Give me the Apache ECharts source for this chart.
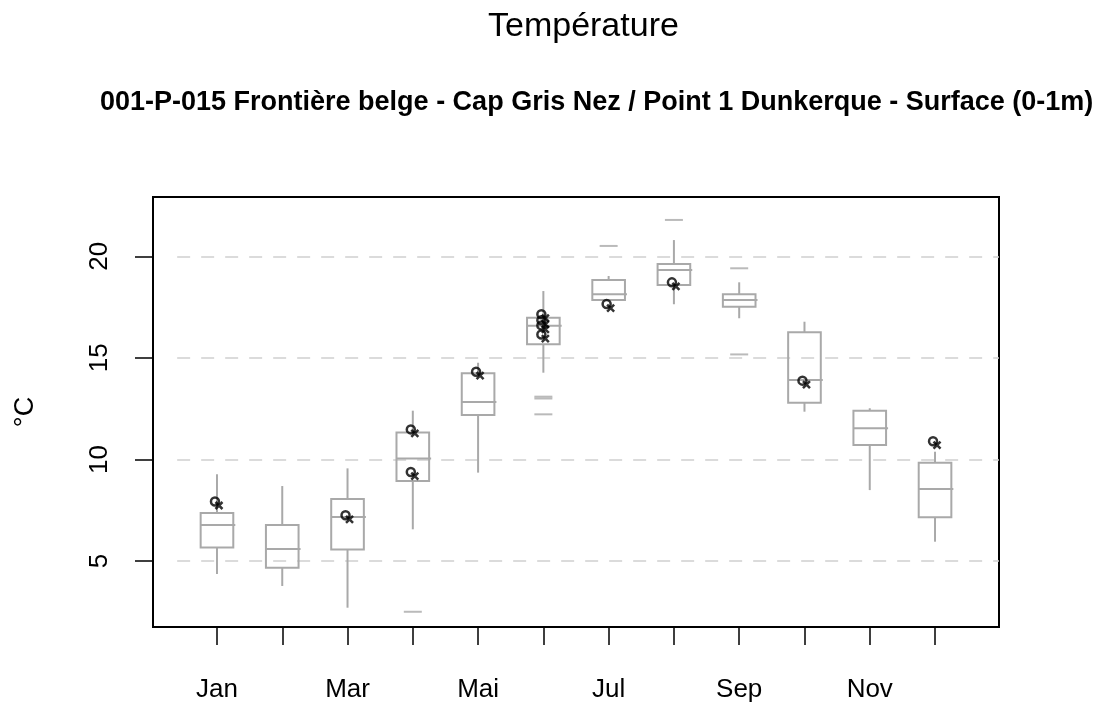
<!DOCTYPE html>
<html>
<head>
<meta charset="utf-8">
<script src="https://cdn.jsdelivr.net/npm/echarts@6/dist/echarts.min.js"></script>
<style>
	html, body { margin: 0; padding: 0; background: #fff; }
	#chart { width: 1101px; height: 706px; }
</style>
</head>
<body>
<div id="chart"></div>
<script>
// mois (seuls les impairs sont affichés, comme dans R)
var months = ['Jan', 'Fev', 'Mar', 'Avr', 'Mai', 'Jun', 'Jul', 'Aou', 'Sep', 'Oct', 'Nov', 'Dec'];
var monthIdx = [1, 2, 3, 4, 5, 6, 7, 8, 9, 10, 11, 12];
var labelIdx = [1, 3, 5, 7, 9, 11];
var yTicks = [5, 10, 15, 20];

// statistiques des boîtes
var whiskerLow  = [4.36, 3.77, 2.70, 6.56, 9.35, 14.27, 17.85, 17.64, 16.95, 12.35, 8.49, 5.95];
var q1          = [5.67, 4.67, 5.57, 8.94, 12.19, 15.67, 17.85, 18.59, 17.52, 12.79, 10.71, 7.15];
var median      = [6.77, 5.59, 7.16, 10.04, 12.83, 16.58, 18.13, 19.33, 17.85, 13.91, 11.53, 8.54];
var q3          = [7.36, 6.77, 8.05, 11.32, 14.24, 16.98, 18.83, 19.62, 18.13, 16.26, 12.40, 9.84];
var whiskerHigh = [9.27, 8.69, 9.56, 12.40, 14.76, 18.29, 19.03, 20.80, 18.72, 16.78, 12.52, 10.38];

// valeurs extrêmes (mois, valeur)
var outlierMonth = [4, 6, 6, 6, 7, 8, 9, 9];
var outlierValue = [2.50, 13.09, 13.00, 12.22, 20.51, 21.79, 19.41, 15.17];

// mesures de l'année (points noirs)
var pointMonth = [1, 3, 4, 4, 5, 6, 6, 6, 6, 7, 8, 10, 12];
var pointValue = [7.83, 7.15, 11.38, 9.28, 14.22, 17.05, 16.75, 16.50, 16.05, 17.55, 18.62, 13.78, 10.80];

var boxData = monthIdx.map(function(m, i) {
	return [m, whiskerLow[i], q1[i], median[i], q3[i], whiskerHigh[i]];
});
var outlierData = outlierMonth.map(function(m, i) { return [m, outlierValue[i]]; });
var pointData = pointMonth.map(function(m, i) { return [m, pointValue[i]]; });

var BOX_COLOR = '#a9a9a9';

function renderBox(params, api) {
	var x = api.value(0);
	var lo = api.coord([x, api.value(1)]);
	var b1 = api.coord([x, api.value(2)]);
	var md = api.coord([x, api.value(3)]);
	var b3 = api.coord([x, api.value(4)]);
	var hi = api.coord([x, api.value(5)]);
	var half = api.size([0.25, 0])[0];
	var st = { stroke: BOX_COLOR, lineWidth: 2, fill: null };
	return {
		type: 'group',
		children: [
			{ type: 'line', shape: { x1: lo[0], y1: lo[1], x2: b1[0], y2: b1[1] }, style: st },
			{ type: 'line', shape: { x1: b3[0], y1: b3[1], x2: hi[0], y2: hi[1] }, style: st },
			{ type: 'rect', shape: { x: b3[0] - half, y: b3[1], width: half * 2, height: b1[1] - b3[1] }, style: st },
			{ type: 'line', shape: { x1: md[0] - half, y1: md[1], x2: md[0] + half + 2, y2: md[1] }, style: st }
		]
	};
}

var chart = echarts.init(document.getElementById('chart'));
chart.setOption({
	animation: false,
	backgroundColor: '#fff',
	textStyle: { fontFamily: 'Liberation Sans' },
	title: [
		{
			text: 'Température',
			left: 483,
			top: 5,
			textStyle: { fontSize: 34, fontWeight: 'normal', color: '#000', fontFamily: 'Liberation Sans' }
		},
		{
			text: '001-P-015 Frontière belge - Cap Gris Nez / Point 1 Dunkerque - Surface (0-1m)',
			left: 95,
			top: 84,
			textStyle: { fontSize: 27, fontWeight: 'bold', color: '#000', fontFamily: 'Liberation Sans' }
		}
	],
	grid: {
		left: 153, top: 197, right: 102, bottom: 79,
		show: true, borderColor: '#000', borderWidth: 2, backgroundColor: 'transparent'
	},
	xAxis: {
		type: 'value',
		min: 0.02,
		max: 12.98,
		splitLine: { show: false },
		axisLine: { show: false },
		axisTick: { show: true, length: 18, inside: false, customValues: monthIdx, lineStyle: { color: '#000', width: 1.5 } },
		axisLabel: {
			customValues: labelIdx,
			margin: 50,
			fontSize: 26,
			color: '#000',
			formatter: function(v) { return months[Math.round(v) - 1]; }
		}
	},
	yAxis: {
		type: 'value',
		min: 1.75,
		max: 22.92,
		name: '°C',
		nameLocation: 'middle',
		nameRotate: 90,
		nameGap: 114,
		nameTextStyle: { fontSize: 27, color: '#000' },
		splitLine: { show: false },
		axisLine: { show: false },
		axisTick: { show: true, length: 18, customValues: yTicks, lineStyle: { color: '#000', width: 1.5 } },
		axisLabel: {
			customValues: yTicks,
			rotate: 90,
			margin: 40,
			fontSize: 26,
			color: '#000'
		}
	},
	series: [
		{
			type: 'custom',
			name: 'boxes',
			renderItem: renderBox,
			encode: { x: 0, y: [1, 2, 3, 4, 5] },
			data: boxData,
			z: 3,
			markLine: {
				silent: true,
				symbol: 'none',
				label: { show: false },
				lineStyle: { color: '#d0d0d0', type: [13, 11], width: 1.5 },
				data: yTicks.map(function(v) {
					return [{ coord: [0.39, v] }, { coord: [12.98, v] }];
				}),
				z: 1
			}
		},
		{
			type: 'scatter',
			name: 'outliers',
			data: outlierData,
			symbol: 'rect',
			symbolSize: [18, 2],
			itemStyle: { color: BOX_COLOR },
			z: 4
		},
		{
			type: 'scatter',
			name: 'points',
			data: pointData,
			symbol: 'circle',
			symbolSize: 8,
			symbolOffset: [-2, -2],
			itemStyle: { color: 'rgba(0,0,0,0)', borderColor: '#000', borderWidth: 2.5 },
			z: 5
		},
		{
			type: 'scatter',
			name: 'points-x',
			data: pointData,
			symbol: 'path://M0,0L10,10M10,0L0,10',
			symbolSize: 7,
			symbolOffset: [2, 2],
			itemStyle: { color: 'rgba(0,0,0,0)', borderColor: '#000', borderWidth: 2.5 },
			z: 5
		}
	]
});
</script>
</body>
</html>
